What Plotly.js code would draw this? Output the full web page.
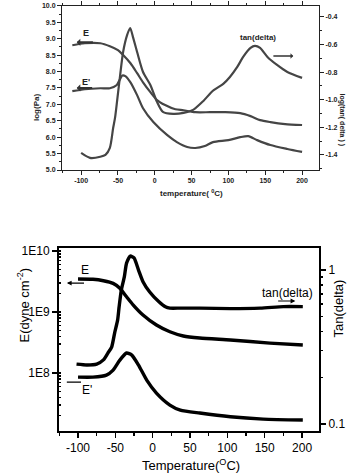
<!DOCTYPE html>
<html><head><meta charset="utf-8">
<script src="https://cdn.plot.ly/plotly-3.0.1.min.js"></script>
<style>html,body{margin:0;padding:0;background:#fff;}#chart{width:359px;height:475px;}</style>
</head><body><div id="chart"></div>
<script>
// ---- Top panel (log Pa / log tan delta) ----
var topT_E = [-112, -95, -74, -61, -50, -43, -33, -24, -16, -6, 3, 14, 28, 39, 55, 75, 96, 116, 130, 143, 157, 177, 200];
var topE   = [8.80, 8.86, 8.86, 8.77, 8.65, 8.50, 8.25, 7.95, 7.67, 7.37, 7.13, 6.98, 6.85, 6.82, 6.76, 6.76, 6.76, 6.73, 6.64, 6.52, 6.46, 6.40, 6.37];
var topT_Eloss = [-112, -95, -74, -61, -52, -44, -40, -33, -24, -16, -2, 17, 30, 44, 55, 68, 79, 100, 116, 127, 139, 157, 180, 200];
var topEloss   = [7.40, 7.46, 7.49, 7.49, 7.58, 7.88, 7.86, 7.67, 7.28, 6.88, 6.46, 6.06, 5.85, 5.70, 5.67, 5.73, 5.85, 5.91, 6.00, 6.03, 5.91, 5.76, 5.64, 5.55];
var topT_tan = [-100, -88, -74, -67, -61, -56.5, -54, -51, -47, -43, -37.5, -33.4, -29.3, -24, -16, -6, 3, 11, 25, 39, 52, 66, 79, 93, 102, 112, 120, 130, 136, 143, 153, 166, 180, 200];
var topTan   = [-1.386, -1.422, -1.414, -1.40, -1.349, -1.204, -1.132, -1.001, -0.820, -0.654, -0.530, -0.480, -0.552, -0.654, -0.799, -0.893, -1.016, -1.088, -1.103, -1.096, -1.074, -1.009, -0.935, -0.885, -0.835, -0.762, -0.690, -0.625, -0.610, -0.625, -0.690, -0.748, -0.799, -0.842];

// ---- Bottom panel (E dyne/cm2, tan delta) ----
var botT_E = [-100, -80, -66, -53, -44, -35, -26, -13, 5, 23, 41, 63, 104, 157, 201];
var botE   = [3.48e9, 3.44e9, 3.26e9, 2.95e9, 2.45e9, 1.78e9, 1.30e9, 8.93e8, 6.12e8, 4.75e8, 4.05e8, 3.75e8, 3.48e8, 3.10e8, 2.88e8];
var botT_Eloss = [-100, -80, -62, -53, -44, -35, -28, -19, -8, 5, 23, 37, 63, 104, 148, 201];
var botEloss   = [8.59e7, 8.59e7, 9.27e7, 1.12e8, 1.63e8, 2.13e8, 1.97e8, 1.35e8, 7.67e7, 4.70e7, 2.99e7, 2.47e7, 2.21e7, 1.92e7, 1.76e7, 1.70e7];
var botT_tan = [-102, -88, -75, -66, -60, -55, -51, -47, -45, -42, -38, -35, -30, -25, -19, -13, -4, 8, 17, 23, 37, 63, 104, 144, 175, 201];
var botTan   = [0.245, 0.242, 0.245, 0.261, 0.289, 0.316, 0.390, 0.473, 0.575, 0.741, 0.902, 1.109, 1.233, 1.197, 1.0, 0.84, 0.72, 0.625, 0.578, 0.566, 0.566, 0.566, 0.562, 0.566, 0.579, 0.579];

// ---- Tick labels ----
var xTickVals = [-100, -50, 0, 50, 100, 150, 200];
var xTickText = ['-100', '-50', '0', '50', '100', '150', '200'];
var topLeftVals = [5.0, 5.5, 6.0, 6.5, 7.0, 7.5, 8.0, 8.5, 9.0, 9.5, 10.0];
var topLeftText = ['5.0', '5.5', '6.0', '6.5', '7.0', '7.5', '8.0', '8.5', '9.0', '9.5', '10.0'];
var topRightVals = [-1.4, -1.2, -1.0, -0.8, -0.6, -0.4];
var topRightText = ['-1.4', '-1.2', '-1.0', '-0.8', '-0.6', '-0.4'];
var botLeftVals = [1e8, 1e9, 1e10];
var botLeftText = ['1E8', '1E9', '1E10'];
var botRightVals = [0.1, 1];
var botRightText = ['0.1', '1'];

var FF = 'Liberation Sans, Arial, sans-serif';
var topCol = '#454545';
var topLine = {color: topCol, width: 2.2, shape: 'spline', smoothing: 0.7};
var botLine = {color: '#000', width: 3.4, shape: 'spline', smoothing: 0.6};

var traces = [
  {x: topT_E, y: topE, xaxis: 'x', yaxis: 'y', mode: 'lines', line: topLine},
  {x: topT_Eloss, y: topEloss, xaxis: 'x', yaxis: 'y', mode: 'lines', line: topLine},
  {x: topT_tan, y: topTan, xaxis: 'x', yaxis: 'y2', mode: 'lines', line: topLine},
  {x: botT_E, y: botE, xaxis: 'x2', yaxis: 'y3', mode: 'lines', line: botLine},
  {x: botT_Eloss, y: botEloss, xaxis: 'x2', yaxis: 'y3', mode: 'lines', line: botLine},
  {x: botT_tan, y: botTan, xaxis: 'x2', yaxis: 'y4', mode: 'lines', line: botLine}
];

var topTick = {family: FF, size: 7, color: '#222', weight: 'bold'};
var botTick = {family: FF, size: 12, color: '#000'};

var layout = {
  width: 359, height: 475,
  margin: {l: 0, r: 0, t: 0, b: 0},
  paper_bgcolor: '#fff', plot_bgcolor: '#fff',
  showlegend: false,
  xaxis: {domain: [0.1727, 0.8886], anchor: 'y', range: [-126, 223],
    tickmode: 'array', tickvals: xTickVals, ticktext: xTickText,
    ticks: 'outside', ticklen: 4, tickwidth: 1, tickcolor: '#222',
    minor: {dtick: 25, tick0: 0, ticks: 'outside', ticklen: 2, tickcolor: '#222'},
    showline: true, linecolor: '#222', linewidth: 1, mirror: 'ticks',
    showgrid: false, zeroline: false, tickfont: topTick, automargin: false},
  yaxis: {domain: [0.6421, 0.9884], anchor: 'x', range: [5, 10.01],
    tickmode: 'array', tickvals: topLeftVals, ticktext: topLeftText,
    ticks: 'outside', ticklen: 4, tickcolor: '#222',
    minor: {dtick: 0.25, tick0: 0, ticks: 'outside', ticklen: 2, tickcolor: '#222'},
    showline: true, linecolor: '#222', linewidth: 1,
    showgrid: false, zeroline: false, tickfont: topTick, automargin: false},
  yaxis2: {overlaying: 'y', side: 'right', anchor: 'x', range: [-1.51, -0.317],
    tickmode: 'array', tickvals: topRightVals, ticktext: topRightText,
    ticks: 'outside', ticklen: 4, tickcolor: '#222',
    minor: {dtick: 0.1, tick0: 0, ticks: 'outside', ticklen: 2, tickcolor: '#222'},
    showline: true, linecolor: '#222', linewidth: 1,
    showgrid: false, zeroline: false, tickfont: topTick, automargin: false},
  xaxis2: {domain: [0.1643, 0.8886], anchor: 'y3', range: [-125.5, 222.7],
    tickmode: 'array', tickvals: xTickVals, ticktext: xTickText,
    ticks: 'outside', ticklen: 5, tickwidth: 1.5, tickcolor: '#000',
    minor: {dtick: 25, tick0: 0, ticks: 'outside', ticklen: 3, tickcolor: '#000'},
    showline: true, linecolor: '#000', linewidth: 2, mirror: true,
    showgrid: false, zeroline: false, tickfont: botTick, automargin: false},
  yaxis3: {domain: [0.0926, 0.4779], anchor: 'x2', type: 'log', range: [7.05, 10.05],
    tickmode: 'array', tickvals: botLeftVals, ticktext: botLeftText,
    ticks: 'outside', ticklen: 5, tickwidth: 1.5, tickcolor: '#000',
    minor: {ticks: 'inside', ticklen: 2, tickcolor: '#000', dtick: 'D1'},
    showline: true, linecolor: '#000', linewidth: 2,
    showgrid: false, zeroline: false, tickfont: botTick, automargin: false},
  yaxis4: {overlaying: 'y3', side: 'right', anchor: 'x2', type: 'log', range: [-1.045, 0.143],
    tickmode: 'array', tickvals: botRightVals, ticktext: botRightText,
    ticks: 'outside', ticklen: 5, tickwidth: 1.5, tickcolor: '#000',
    minor: {ticks: 'outside', ticklen: 2, tickcolor: '#000', dtick: 'D1'},
    showline: true, linecolor: '#000', linewidth: 2,
    showgrid: false, zeroline: false, tickfont: botTick, automargin: false},
  annotations: [
    // axis titles
    {xref: 'paper', yref: 'paper', x: 30/359, y: 1 - 92/475, text: 'log(Pa)', textangle: -90, showarrow: false,
      font: {family: FF, size: 8, color: '#222', weight: 'bold'}},
    {xref: 'paper', yref: 'paper', x: 348/359, y: 1 - 91/475, text: 'log(tan( delta ) )', textangle: 90, showarrow: false,
      font: {family: FF, size: 7, color: '#222', weight: 'bold'}},
    {xref: 'paper', yref: 'paper', x: 191/359, y: 1 - 193/475, text: 'temperature( <sup>0</sup>C)', showarrow: false,
      font: {family: FF, size: 8, color: '#222', weight: 'bold'}},
    {xref: 'paper', yref: 'paper', x: 13/359, y: 1 - 345/475, text: 'E(dyne cm<sup>-2</sup>)', textangle: -90, showarrow: false,
      font: {family: FF, size: 13, color: '#000'}},
    {xref: 'paper', yref: 'paper', x: 347/359, y: 1 - 340/475, text: 'Tan(delta)', textangle: -90, showarrow: false,
      font: {family: FF, size: 13, color: '#000'}},
    {xref: 'paper', yref: 'paper', x: 191/359, y: 1 - 455/475, yanchor: 'top', text: 'Temperature(<sup>O</sup>C)', showarrow: false,
      font: {family: FF, size: 13, color: '#000'}},
    // top panel labels
    {xref: 'x', yref: 'y', x: -94, y: 9.16, text: 'E', showarrow: false, font: {family: FF, size: 9, color: '#222', weight: 'bold'}},
    {xref: 'x', yref: 'y', x: -93, y: 7.69, text: "E'", showarrow: false, font: {family: FF, size: 9, color: '#222', weight: 'bold'}},
    {xref: 'x', yref: 'y2', x: 140, y: -0.552, text: 'tan(delta)', showarrow: false, font: {family: FF, size: 8, color: '#222', weight: 'bold'}},
    {xref: 'x', yref: 'y', axref: 'x', ayref: 'y', x: -106, y: 8.89, ax: -82, ay: 8.89, text: '', showarrow: true,
      arrowhead: 1, arrowsize: 0.6, arrowwidth: 2, arrowcolor: '#333'},
    {xref: 'x', yref: 'y', axref: 'x', ayref: 'y', x: -106, y: 7.50, ax: -83, ay: 7.50, text: '', showarrow: true,
      arrowhead: 1, arrowsize: 0.6, arrowwidth: 2, arrowcolor: '#333'},
    {xref: 'x', yref: 'y2', axref: 'x', ayref: 'y2', x: 188, y: -0.683, ax: 159, ay: -0.683, text: '', showarrow: true,
      arrowhead: 1, arrowsize: 0.6, arrowwidth: 1.5, arrowcolor: '#333'},
    // bottom panel labels
    {xref: 'x2', yref: 'y3', x: -90, y: 9.69, text: 'E', showarrow: false, font: {family: FF, size: 12, color: '#000'}},
    {xref: 'x2', yref: 'y3', x: -88, y: 7.72, text: "E'", showarrow: false, font: {family: FF, size: 12, color: '#000'}},
    {xref: 'x2', yref: 'y4', x: 180, y: -0.146, text: 'tan(delta)', showarrow: false, font: {family: FF, size: 12, color: '#000'}},
    {xref: 'x2', yref: 'y3', axref: 'x2', ayref: 'y3', x: -115, y: 9.475, ax: -90, ay: 9.475, text: '', showarrow: true,
      arrowhead: 2, arrowsize: 0.8, arrowwidth: 1.2, arrowcolor: '#000'},
    {xref: 'x2', yref: 'y3', axref: 'x2', ayref: 'y3', x: -115, y: 7.852, ax: -94, ay: 7.852, text: '', showarrow: true,
      arrowhead: 0, arrowwidth: 1.2, arrowcolor: '#000'},
    {xref: 'x2', yref: 'y4', axref: 'x2', ayref: 'y4', x: 191, y: -0.201, ax: 166, ay: -0.201, text: '', showarrow: true,
      arrowhead: 2, arrowsize: 0.8, arrowwidth: 1.2, arrowcolor: '#000'}
  ]
};

Plotly.newPlot('chart', traces, layout, {staticPlot: true, displayModeBar: false});
</script>
</body></html>
